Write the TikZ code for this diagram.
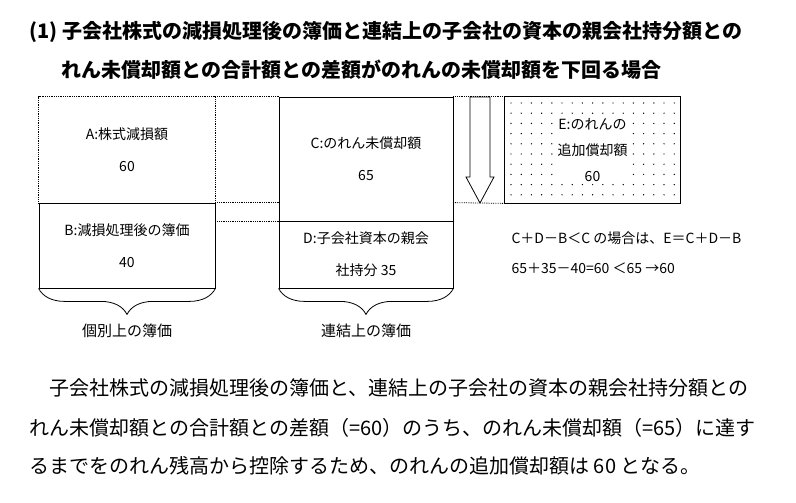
\documentclass[tikz,border=0pt]{standalone}
\usepackage{fontspec}
\setmainfont{Noto Sans CJK JP}
\usetikzlibrary{positioning, decorations.pathreplacing}

\begin{document}
\begin{tikzpicture}[
        x=1pt, y=-1pt,
        box/.style={
                draw=black,
                thick,
                minimum width=176pt,
                align=center,
                font=\fontsize{14}{32}\selectfont
            },
        guide/.style={densely dotted, thick},
        brace/.style={decorate, thick, decoration={brace, mirror, amplitude=26pt}},
        caption/.style={font=\fontsize{15}{18}\selectfont},
        para/.style={font=\fontsize{20}{22}\selectfont, anchor=west}
    ]
    \useasboundingbox (0,0) rectangle (796,503);

    % title
    \node[anchor=west, font=\fontsize{20}{22}\selectfont\bfseries] (title1) at (26,32) {(1)\ 子会社株式の減損処理後の簿価と連結上の子会社の資本の親会社持分額との};
    \node[anchor=west, font=\fontsize{20}{22}\selectfont\bfseries] (title2) at (58,70) {れん未償却額との合計額との差額がのれんの未償却額を下回る場合};

    % boxes
    \node[box, draw=none, minimum height=106pt] (a) at (127,150) {A:株式減損額\\60};
    \draw[guide] (a.south west) -- (a.north west) -- (a.north east) -- (a.south east);
    \node[box, minimum height=85pt] (b) at (127,245.5) {B:減損処理後の簿価\\40};
    \node[box, minimum width=174pt, minimum height=124pt] (c) at (366,159) {C:のれん未償却額\\65};
    \node[box, minimum width=174pt, minimum height=67pt] (d) at (366,254.5) {D:子会社資本の親会\\社持分 35};
    \node[box, draw=none, minimum width=175pt, minimum height=106pt] (e) at (592.5,150) {};
    \foreach \i in {0,...,16} {
        \foreach \j in {0,...,9} {
            \fill (511+\i*10.2,103+\j*10.2) circle (0.7pt);
        }
    }
    \draw[thick] (e.south west) rectangle (e.north east);
    \node[font=\fontsize{14}{26}\selectfont, fill=white, inner sep=1pt, align=center] (etext) at (e) {E:のれんの\\追加償却額\\60};

    % guide lines
    \draw[guide] (a.north east) -- (c.north west);
    \draw[guide] (c.north east) -- (e.north west);
    \draw[guide] (b.north east) -- (b.north east -| c.west);
    \draw[guide] (b.north east -| c.east) -- (e.south west);
    \draw[guide] (c.south west -| b.east) -- (c.south west);

    % arrow
    \draw[thick] (470,97) -- (490,97) -- (490,177) -- (494,177) -- (480,203)
        -- (466,177) -- (470,177) -- cycle;

    % braces
    \draw[brace] (b.south west) -- (b.south east) node[midway, below=32pt, caption] (blabel) {個別上の簿価};
    \draw[brace] (d.south west) -- (d.south east) node[midway, below=32pt, caption] (dlabel) {連結上の簿価};

    % formula
    \node[anchor=west, font=\fontsize{14}{16}\selectfont] (rule) at (508,238) {C＋D－B＜C の場合は、E＝C＋D－B};
    \node[anchor=west, font=\fontsize{14}{16}\selectfont] (calc) at (508,268) {65＋35－40=60 ＜65 →60};

    % explanation
    \node[para] (p1) at (46,388) {子会社株式の減損処理後の簿価と、連結上の子会社の資本の親会社持分額との};
    \node[para] (p2) at (26,428) {れん未償却額との合計額との差額（=60）のうち、のれん未償却額（=65）に達す};
    \node[para] (p3) at (26,466) {るまでをのれん残高から控除するため、のれんの追加償却額は 60 となる。};
\end{tikzpicture}
\end{document}
